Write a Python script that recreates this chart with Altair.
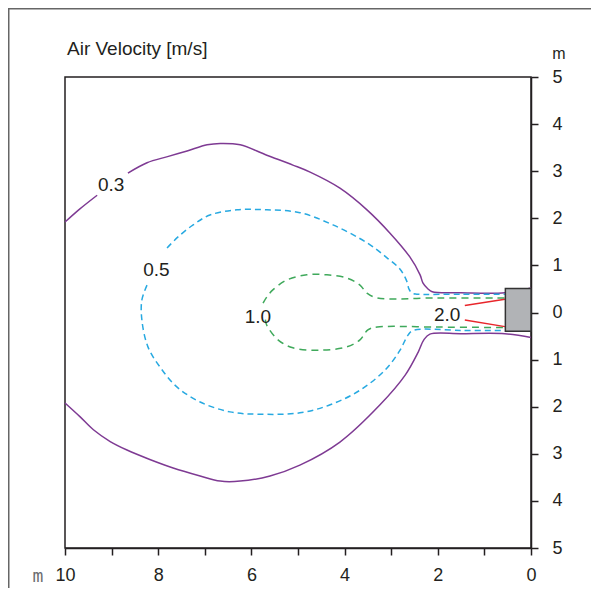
import altair as alt
import pandas as pd

# ---- 0.3 m/s contour (purple, solid) ----
c03_upper_left_x = [10.0, 9.68, 9.31]
c03_upper_left_y = [1.92, 2.20, 2.49]
c03_upper_x = [8.65, 8.24, 7.80, 7.38, 6.95, 6.67, 6.24, 5.67, 5.11, 4.74, 4.10, 3.52, 3.03, 2.60, 2.38, 2.32, 2.21, 2.12, 1.50, 0.56, 0.00]
c03_upper_y = [2.96, 3.18, 3.31, 3.43, 3.56, 3.59, 3.56, 3.34, 3.13, 2.98, 2.64, 2.18, 1.69, 1.18, 0.80, 0.63, 0.50, 0.44, 0.42, 0.42, 0.52]
c03_lower_x = [10.0, 9.68, 9.39, 9.03, 8.67, 8.18, 7.68, 7.10, 6.67, 6.24, 5.60, 4.96, 4.10, 3.24, 2.70, 2.42, 2.30, 2.17, 1.50, 0.56, 0.00]
c03_lower_y = [-1.92, -2.21, -2.49, -2.74, -2.92, -3.12, -3.30, -3.47, -3.58, -3.58, -3.47, -3.24, -2.75, -1.96, -1.33, -0.84, -0.58, -0.46, -0.45, -0.45, -0.53]

# ---- 0.5 m/s contour (blue, dashed) ----
c05_upper_x = [7.81, 7.58, 7.25, 6.89, 6.31, 5.67, 4.96, 4.25, 3.52, 3.09, 2.81, 2.66, 2.62, 2.55, 2.45, 1.50, 0.56]
c05_upper_y = [1.37, 1.60, 1.86, 2.07, 2.18, 2.18, 2.12, 1.86, 1.48, 1.16, 0.92, 0.65, 0.50, 0.41, 0.39, 0.39, 0.39]
c05_lower_x = [8.24, 8.35, 8.35, 8.22, 7.96, 7.60, 7.10, 6.46, 5.82, 4.96, 4.31, 3.67, 3.13, 2.81, 2.64, 2.53, 1.50, 0.56]
c05_lower_y = [0.58, 0.27, -0.16, -0.73, -1.16, -1.58, -1.90, -2.11, -2.16, -2.13, -1.96, -1.65, -1.22, -0.80, -0.48, -0.38, -0.38, -0.38]

# ---- 1.0 m/s contour (green, dashed) ----
c10_upper_x = [5.75, 5.67, 5.54, 5.24, 4.81, 4.38, 3.95, 3.67, 3.52, 3.30, 2.00, 0.56]
c10_upper_y = [0.20, 0.33, 0.48, 0.69, 0.80, 0.80, 0.73, 0.58, 0.41, 0.31, 0.31, 0.31]
c10_lower_x = [5.70, 5.67, 5.43, 5.11, 4.53, 3.95, 3.67, 3.50, 3.30, 2.00, 0.56]
c10_lower_y = [-0.15, -0.27, -0.58, -0.75, -0.80, -0.73, -0.58, -0.37, -0.31, -0.31, -0.32]

# ---- 2.0 m/s contour (red, solid) ----
c20_upper_x = [1.42, 0.56]
c20_upper_y = [0.15, 0.28]
c20_lower_x = [1.42, 0.56]
c20_lower_y = [-0.16, -0.30]

# ---- outlet box ----
box_x = [0.55]
box_x2 = [0.0]
box_y = [0.51]
box_y2 = [-0.40]

# ---- contour labels ----
label_text = ["0.3", "0.5", "1.0", "2.0"]
label_x = [9.01, 8.04, 5.86, 1.80]
label_y = [2.70, 0.90, -0.09, -0.05]

# ---- axes ----
x_ticks = [0, 1, 2, 3, 4, 5, 6, 7, 8, 9, 10]
y_ticks = [-5, -4, -3, -2, -1, 0, 1, 2, 3, 4, 5]
chart_title = "Air Velocity [m/s]"
unit_label = "m"

FONT = "Liberation Sans"
INK = "#231F20"


def frame(segs):
    rows = []
    for name, xs, ys in segs:
        for i, (x, y) in enumerate(zip(xs, ys)):
            rows.append({"seg": name, "i": i, "x": x, "y": y})
    return pd.DataFrame(rows)


xscale = alt.Scale(domain=[0, 10], reverse=True, nice=False, zero=False)
yscale = alt.Scale(domain=[-5, 5], nice=False, zero=False)
xaxis = alt.Axis(values=x_ticks, labelExpr="datum.value % 2 == 0 ? datum.label : ''",
                 tickSize=7, labelPadding=11, labelFontSize=18, labelFont=FONT,
                 labelColor=INK, domainColor=INK, tickColor=INK, domainWidth=1.5,
                 tickWidth=1.5, grid=False, title=None, labelFlush=False, labelOverlap=False)
yaxis = alt.Axis(orient="right", values=y_ticks, labelExpr="'' + abs(datum.value)",
                 tickSize=7, labelPadding=14, labelFontSize=18, labelFont=FONT,
                 labelColor=INK, domainColor=INK, tickColor=INK, domainWidth=1.5,
                 tickWidth=1.5, grid=False, title=None, labelFlush=False, labelOverlap=False)

X = alt.X("x:Q", scale=xscale, axis=xaxis)
Y = alt.Y("y:Q", scale=yscale, axis=yaxis)


def line_layer(segs, color, dash=None):
    kw = dict(color=color, strokeWidth=1.5, interpolate="catmull-rom")
    if dash:
        kw["strokeDash"] = dash
    return alt.Chart(frame(segs)).mark_line(**kw).encode(
        x=X, y=Y, detail="seg:N", order="i:Q")


purple = line_layer([("a", c03_upper_left_x, c03_upper_left_y),
                     ("b", c03_upper_x, c03_upper_y),
                     ("c", c03_lower_x, c03_lower_y)], "#7E3A93")
blue = line_layer([("a", c05_upper_x, c05_upper_y),
                   ("b", c05_lower_x, c05_lower_y)], "#27A9E1", [6, 4])
green = line_layer([("a", c10_upper_x, c10_upper_y),
                    ("b", c10_lower_x, c10_lower_y)], "#3FA95B", [7, 5])
red = line_layer([("a", c20_upper_x, c20_upper_y),
                  ("b", c20_lower_x, c20_lower_y)], "#E8262B")

box = alt.Chart(pd.DataFrame({"x": box_x, "x2": box_x2, "y": box_y, "y2": box_y2})).mark_rect(
    fill="#B1B3B6", stroke="#333333", strokeWidth=1.5).encode(
    x=X, x2="x2:Q", y=Y, y2="y2:Q")

labels = alt.Chart(pd.DataFrame({"x": label_x, "y": label_y, "t": label_text})).mark_text(
    font=FONT, fontSize=19, color=INK, align="center", baseline="middle").encode(
    x=X, y=Y, text="t:N")

title = alt.Chart(pd.DataFrame({"t": [chart_title]})).mark_text(
    font=FONT, fontSize=19, color=INK, align="left", baseline="alphabetic").encode(
    x=alt.value(2), y=alt.value(-22.5), text="t:N")

unit_top = alt.Chart(pd.DataFrame({"t": [unit_label]})).mark_text(
    font=FONT, fontSize=16, color=INK, align="center", baseline="middle").encode(
    x=alt.value(494), y=alt.value(-23), text="t:N")

unit_bottom = alt.Chart(pd.DataFrame({"t": [unit_label]})).mark_text(
    font="DejaVu Sans Mono", fontSize=18, color="#6D6E71", align="center", baseline="middle").encode(
    x=alt.value(-27), y=alt.value(500), text="t:N")

frame_top = alt.Chart(pd.DataFrame({"t": [0]})).mark_rule(color="#666666", strokeWidth=1.5).encode(
    x=alt.value(-57), x2=alt.value(526), y=alt.value(-68.25))
frame_left = alt.Chart(pd.DataFrame({"t": [0]})).mark_rule(color="#666666", strokeWidth=1.5).encode(
    x=alt.value(-56.25), y=alt.value(-69), y2=alt.value(511))

chart = alt.layer(purple, blue, green, red, box, labels, title, unit_top, unit_bottom,
                  frame_top, frame_left).properties(
    width=466, height=471, autosize="none",
    padding={"left": 57, "top": 69, "right": 60, "bottom": 40}
).configure_view(stroke=INK, strokeWidth=1.5)

chart.save("out.html", embed_options={"renderer": "svg", "actions": False})
